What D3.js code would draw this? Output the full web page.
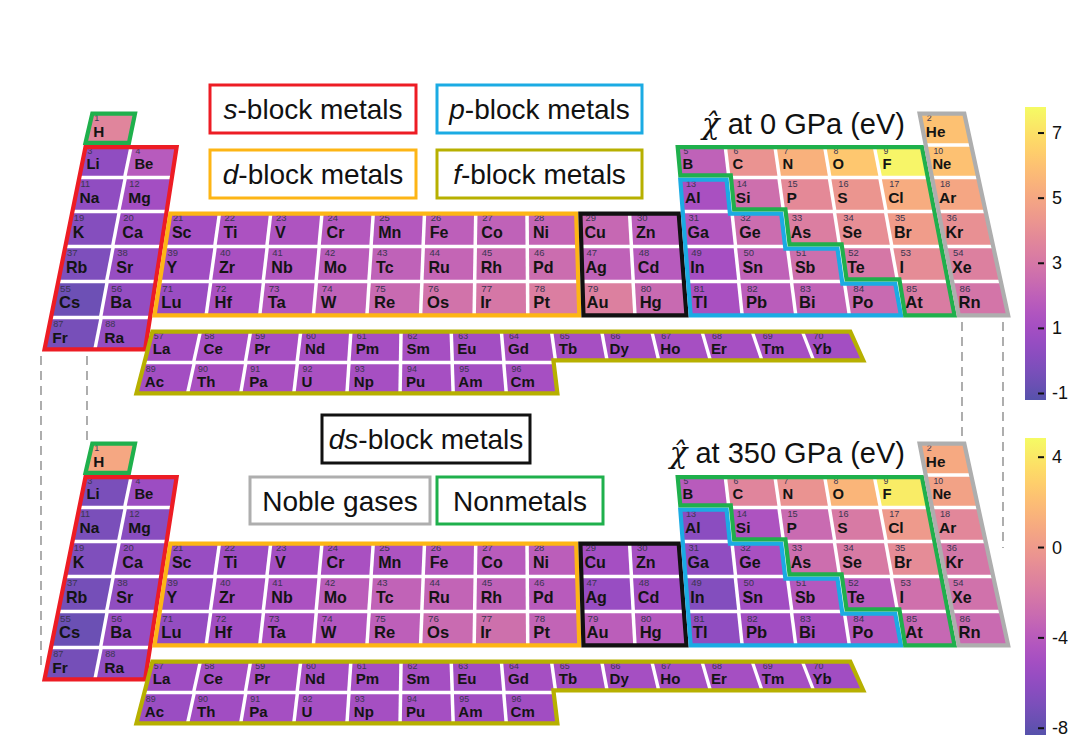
<!DOCTYPE html>
<html><head><meta charset="utf-8">
<script src="https://cdn.jsdelivr.net/npm/d3@7"></script>
<style>
body{margin:0;background:#fff}
svg{display:block}
text{font-family:"Liberation Sans",Arial,Helvetica,sans-serif}
</style>
</head><body>
<svg id="chart" width="1080" height="745"></svg>
<script>
// ---------------- DATA ----------------
const symbols = ["H","He","Li","Be","B","C","N","O","F","Ne","Na","Mg","Al","Si","P","S","Cl","Ar",
"K","Ca","Sc","Ti","V","Cr","Mn","Fe","Co","Ni","Cu","Zn","Ga","Ge","As","Se","Br","Kr",
"Rb","Sr","Y","Zr","Nb","Mo","Tc","Ru","Rh","Pd","Ag","Cd","In","Sn","Sb","Te","I","Xe",
"Cs","Ba","Lu","Hf","Ta","W","Re","Os","Ir","Pt","Au","Hg","Tl","Pb","Bi","Po","At","Rn",
"Fr","Ra",
"La","Ce","Pr","Nd","Pm","Sm","Eu","Gd","Tb","Dy","Ho","Er","Tm","Yb",
"Ac","Th","Pa","U","Np","Pu","Am","Cm"];
const atomicNumbers = [1,2,3,4,5,6,7,8,9,10,11,12,13,14,15,16,17,18,
19,20,21,22,23,24,25,26,27,28,29,30,31,32,33,34,35,36,
37,38,39,40,41,42,43,44,45,46,47,48,49,50,51,52,53,54,
55,56,71,72,73,74,75,76,77,78,79,80,81,82,83,84,85,86,
87,88,
57,58,59,60,61,62,63,64,65,66,67,68,69,70,
89,90,91,92,93,94,95,96];
// table column (group) and row (period; 8 = lanthanide strip, 9 = actinide strip)
const tableCols = [1,18, 1,2,13,14,15,16,17,18, 1,2,13,14,15,16,17,18,
1,2,3,4,5,6,7,8,9,10,11,12,13,14,15,16,17,18,
1,2,3,4,5,6,7,8,9,10,11,12,13,14,15,16,17,18,
1,2,3,4,5,6,7,8,9,10,11,12,13,14,15,16,17,18,
1,2,
1,2,3,4,5,6,7,8,9,10,11,12,13,14,
1,2,3,4,5,6,7,8];
const tableRows = [1,1, 2,2,2,2,2,2,2,2, 3,3,3,3,3,3,3,3,
4,4,4,4,4,4,4,4,4,4,4,4,4,4,4,4,4,4,
5,5,5,5,5,5,5,5,5,5,5,5,5,5,5,5,5,5,
6,6,6,6,6,6,6,6,6,6,6,6,6,6,6,6,6,6,
7,7,
8,8,8,8,8,8,8,8,8,8,8,8,8,8,
9,9,9,9,9,9,9,9];
// chi-hat (eV) at 0 GPa
const chi0 = [3.6,6.0, 0.4,1.7,2.0,4.2,5.4,6.2,7.6,6.0, 0.4,1.0,1.2,2.6,3.8,4.3,5.2,5.0,
0.0,0.8,1.0,1.3,1.4,1.6,1.6,1.9,2.0,2.2,2.3,1.8,1.5,2.5,3.3,4.0,4.6,4.1,
-0.2,0.6,0.9,1.2,1.5,1.8,2.0,2.2,2.4,2.5,2.0,1.7,1.1,2.0,2.6,3.0,3.9,3.4,
-0.7,0.5,0.7,1.2,1.6,2.0,2.4,2.8,3.0,3.3,3.4,2.4,1.2,1.8,2.1,2.4,3.2,2.9,
-0.4,0.5,
1.0,1.1,1.1,1.1,1.1,1.1,1.0,1.2,1.1,1.1,1.1,1.1,1.1,1.0,
1.0,1.2,1.2,1.2,1.1,1.1,1.0,1.1];
// chi-hat (eV) at 350 GPa
const chi350 = [0.8,0.9, -7.0,-5.4,-4.0,-1.3,-0.4,1.6,4.2,0.5, -7.0,-6.3,-6.2,-4.6,-3.0,-2.0,0.0,-1.2,
-6.8,-5.8,-5.6,-5.3,-5.1,-4.8,-4.6,-4.2,-4.0,-3.8,-5.0,-5.0,-6.0,-4.8,-2.8,-2.0,-0.9,-2.2,
-7.2,-6.0,-5.6,-5.0,-4.7,-3.8,-3.5,-3.4,-3.6,-4.0,-5.6,-5.2,-6.6,-5.2,-4.2,-4.0,-2.6,-2.5,
-7.6,-5.6,-5.8,-5.2,-4.8,-4.3,-3.7,-3.0,-2.7,-3.4,-3.8,-4.2,-6.0,-5.2,-4.8,-4.2,-3.2,-3.0,
-7.2,-6.0,
-5.3,-5.0,-5.0,-5.0,-5.0,-5.0,-5.2,-5.0,-5.0,-5.0,-5.0,-5.0,-5.0,-5.2,
-5.5,-5.2,-5.0,-5.0,-5.0,-5.0,-5.2,-5.2];
const ticks0 = [7,5,3,1,-1];
const ticks350 = [4,0,-4,-8];
const range0 = [-1.2,7.8];
const range350 = [-8.3,4.85];
const titleRest = [" at 0 GPa (eV)"," at 350 GPa (eV)"];
const legendItalic = ["s","p","d","f","ds","",""];
const legendRest = ["-block metals","-block metals","-block metals","-block metals","-block metals","Noble gases","Nonmetals"];

// ---------------- LAYOUT / STYLE ----------------
const legendBoxes = [[210,85,206,48],[437,85,205,48],[210,150,206,48],[437,150,205,48],[322,415,208,48],[250,477,180,47],[437,477,166,47]];
const legendColors = ["#ED1C24","#1BABE3","#FDB515","#B7B000","#111111","#AEAEAE","#1FB04C"];
const C = {H:"#1FB04C", s:"#ED1C24", d:"#FDB515", ds:"#111111", p:"#1BABE3", nm:"#1FB04C", ng:"#AEAEAE", f:"#B7B000"};

const svg = d3.select("#chart");

// perspective grid mapping (main table)
const rowY = d3.scaleLinear().domain([0,1,2,3,4,5,6,7]).range([111.5,145,177.5,211.5,246.5,281.5,317.5,351.5]);
const pitch = d3.scaleLinear().domain([0,7]).range([48.9,54.4]);
const anchorX = d3.scaleLinear().domain([0,7]).range([673,691.2]);
function mainXY(u,v){
  let x = anchorX(v) + (u-12)*pitch(v);
  if (u < 2) x += 2*(2-u);
  return [x, rowY(v)];
}
// f-block strip mapping
const fY = d3.scaleLinear().domain([0,1,2]).range([329.5,362.5,395.5]);
const fLeft = d3.scaleLinear().domain([0,2]).range([150.3,134.3]);
const fPitch = d3.scaleLinear().domain([0,2]).range([50.15,53.15]);
function fXY(u,v){ return [fLeft(v)+u*fPitch(v), fY(v)]; }

function cmap(t){ return d3.interpolateRgb("#ffffff", d3.interpolatePlasma(t))(0.7); }

function borderPath(verts, mapFn, inset){
  const n = verts.length;
  const pts = verts.map((p,i)=>{
    const prev = verts[(i-1+n)%n], next = verts[(i+1)%n];
    const d1 = [Math.sign(p[0]-prev[0]), Math.sign(p[1]-prev[1])];
    const d2 = [Math.sign(next[0]-p[0]), Math.sign(next[1]-p[1])];
    const n1 = [-d1[1], d1[0]], n2 = [-d2[1], d2[0]];
    const xy = mapFn(p[0], p[1]);
    return [xy[0]+(n1[0]+n2[0])*inset, xy[1]+(n1[1]+n2[1])*inset];
  });
  return "M"+pts.map(p=>p[0].toFixed(2)+","+p[1].toFixed(2)).join("L")+"Z";
}

const groups = [
  {verts:[[0,0],[1,0],[1,1],[0,1]], map:mainXY, color:C.H},
  {verts:[[0,1],[2,1],[2,7],[0,7]], map:mainXY, color:C.s},
  {verts:[[2,3],[10,3],[10,6],[2,6]], map:mainXY, color:C.d},
  {verts:[[10,3],[12,3],[12,6],[10,6]], map:mainXY, color:C.ds},
  {verts:[[12,2],[13,2],[13,3],[14,3],[14,4],[15,4],[15,5],[16,5],[16,6],[12,6]], map:mainXY, color:C.p},
  {verts:[[12,1],[17,1],[17,6],[16,6],[16,5],[15,5],[15,4],[14,4],[14,3],[13,3],[13,2],[12,2]], map:mainXY, color:C.nm},
  {verts:[[17,0],[18,0],[18,6],[17,6]], map:mainXY, color:C.ng},
  {verts:[[0,0],[14,0],[14,1],[8,1],[8,2],[0,2]], map:fXY, color:C.f}
];

// dashed connector lines
const dashes = [[41,356,41,665],[87,356,87,440],[962,322,962,440],[1003,322,1003,548]];
svg.append("g").selectAll("line").data(dashes).join("line")
  .attr("x1",d=>d[0]).attr("y1",d=>d[1]).attr("x2",d=>d[2]).attr("y2",d=>d[3])
  .attr("stroke","#9a9a9a").attr("stroke-width",1.6).attr("stroke-dasharray","9,6");

// legend boxes
const lg = svg.append("g");
legendBoxes.forEach((b,i)=>{
  lg.append("rect").attr("x",b[0]).attr("y",b[1]).attr("width",b[2]).attr("height",b[3])
    .attr("fill","#fff").attr("stroke",legendColors[i]).attr("stroke-width",3);
  const t = lg.append("text").attr("x",b[0]+b[2]/2).attr("y",b[1]+b[3]/2+10)
    .attr("text-anchor","middle").attr("font-size",28).attr("fill","#111");
  if (legendItalic[i]) t.append("tspan").attr("font-style","italic").text(legendItalic[i]);
  t.append("tspan").text(legendRest[i]);
});

const panels = [
  {dy:0, vals:chi0, dom:range0, ticks:ticks0, cb:[107,400], title:titleRest[0], titleY:134},
  {dy:330, vals:chi350, dom:range350, ticks:ticks350, cb:[438,735], title:titleRest[1], titleY:463}
];

const g_ = 1.75;
panels.forEach((P,pi)=>{
  const color = d3.scaleSequential(cmap).domain(P.dom);
  const g = svg.append("g").attr("transform",`translate(0,${P.dy})`);
  const cells = symbols.map((s,i)=>{
    const isF = tableRows[i] >= 8;
    const mp = isF ? fXY : mainXY;
    const u = tableCols[i]-1, v = isF ? tableRows[i]-8 : tableRows[i]-1;
    const tl = mp(u,v), tr = mp(u+1,v), br = mp(u+1,v+1), bl = mp(u,v+1);
    return {s, z:atomicNumbers[i], val:P.vals[i],
      pts:[[tl[0]+g_,tl[1]+g_],[tr[0]-g_,tr[1]+g_],[br[0]-g_,br[1]-g_],[bl[0]+g_,bl[1]-g_]]};
  });
  g.append("g").selectAll("path").data(cells).join("path")
    .attr("d",d=>"M"+d.pts.map(p=>p.join(",")).join("L")+"Z")
    .attr("fill",d=>color(d.val));
  const tg = g.append("g").style("font-family","'DejaVu Sans',sans-serif");
  cells.forEach(d=>{
    const h = d.pts[3][1]-d.pts[0][1];
    const lx = (d.pts[0][0]*0.6+d.pts[3][0]*0.4);
    tg.append("text").attr("x",lx+5).attr("y",d.pts[0][1]+0.255*h)
      .attr("font-size",0.3*h).attr("fill","#3a3550").text(d.z);
    tg.append("text").attr("x",lx+4).attr("y",d.pts[0][1]+0.775*h)
      .attr("font-size",0.51*h).attr("font-weight","bold").attr("fill","#141414").text(d.s);
  });
  g.append("g").selectAll("path").data(groups).join("path")
    .attr("d",d=>borderPath(d.verts,d.map,2.1))
    .attr("fill","none").attr("stroke",d=>d.color).attr("stroke-width",4.2)
    .attr("stroke-linejoin","miter");

  // title (chi-hat with combining circumflex)
  const tt = svg.append("text").attr("x",905).attr("y",P.titleY).attr("text-anchor","end")
    .attr("font-size",29).attr("fill","#111");
  tt.append("tspan").attr("font-style","italic").attr("font-family","'DejaVu Serif',serif").text("χ\u0302");
  tt.append("tspan").text(P.title);

  // colorbar
  const cy = d3.scaleLinear().domain(P.dom).range([P.cb[1],P.cb[0]]);
  const gid = "grad"+pi;
  const grad = svg.append("defs").append("linearGradient").attr("id",gid)
    .attr("x1",0).attr("y1",1).attr("x2",0).attr("y2",0);
  d3.range(0,1.0001,0.05).forEach(t=>grad.append("stop").attr("offset",t).attr("stop-color",cmap(t)));
  svg.append("rect").attr("x",1025).attr("y",P.cb[0]).attr("width",21).attr("height",P.cb[1]-P.cb[0])
    .attr("fill",`url(#${gid})`);
  const ax = svg.append("g");
  P.ticks.forEach(t=>{
    ax.append("line").attr("x1",1038).attr("x2",1044).attr("y1",cy(t)).attr("y2",cy(t))
      .attr("stroke","#111").attr("stroke-width",2);
    ax.append("text").attr("x",1052).attr("y",cy(t)+6).attr("font-size",18).attr("fill","#111").text(t);
  });
});
</script>
</body></html>
